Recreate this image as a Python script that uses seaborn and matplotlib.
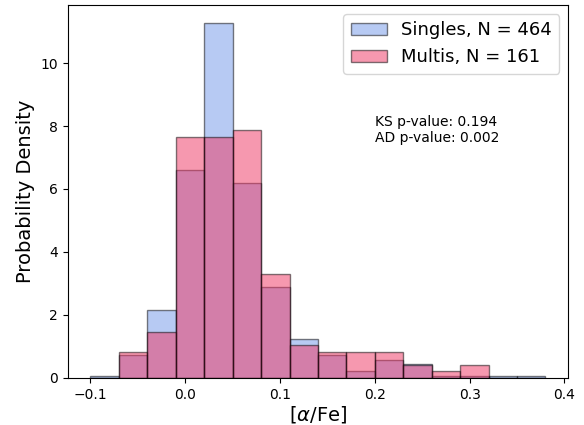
import numpy as np
import pandas as pd
import matplotlib
matplotlib.use("Agg")
import matplotlib.pyplot as plt
import seaborn as sns

# bin edges of the [alpha/Fe] histogram
bin_edges = [-0.10, -0.07, -0.04, -0.01, 0.02, 0.05, 0.08, 0.11, 0.14,
             0.17, 0.20, 0.23, 0.26, 0.29, 0.32, 0.35, 0.38]
bin_centers = [(a + b) / 2 for a, b in zip(bin_edges[:-1], bin_edges[1:])]

# counts per bin
singles_counts = [1, 10, 30, 92, 157, 86, 40, 17, 10, 3, 8, 6, 1, 1, 1, 1]
multis_counts = [0, 4, 7, 37, 37, 38, 16, 5, 4, 4, 4, 2, 1, 2, 0, 0]

ks_pvalue = 0.194
ad_pvalue = 0.002

df_singles = pd.DataFrame({'alpha_fe': bin_centers, 'n': singles_counts})
df_multis = pd.DataFrame({'alpha_fe': bin_centers, 'n': multis_counts})

plt.rcParams['font.family'] = ['DejaVu Sans']

fig, ax = plt.subplots(figsize=(5.84, 4.25), dpi=100)

sns.histplot(data=df_singles, x='alpha_fe', weights='n', bins=bin_edges,
             stat='density', color='#7197e9', alpha=0.5, edgecolor=(0, 0, 0, 0.5),
             linewidth=1, label=f'Singles, N = {sum(singles_counts)}', ax=ax)
sns.histplot(data=df_multis, x='alpha_fe', weights='n', bins=bin_edges,
             stat='density', color='#ef3361', alpha=0.5, edgecolor=(0, 0, 0, 0.5),
             linewidth=1, label=f'Multis, N = {sum(multis_counts)}', ax=ax)

ax.text(0.2, 7.5, f'KS p-value: {ks_pvalue}\nAD p-value: {ad_pvalue:.3f}', fontsize=10)

ax.set_xlabel(r'[$\alpha$/Fe]', fontsize=14, labelpad=2)
ax.set_ylabel('Probability Density', fontsize=14)
ax.tick_params(labelsize=10)
ax.legend(loc='upper right', fontsize=13)

plt.subplots_adjust(left=0.116, right=0.973, top=0.988, bottom=0.111)
plt.savefig('out.png')
